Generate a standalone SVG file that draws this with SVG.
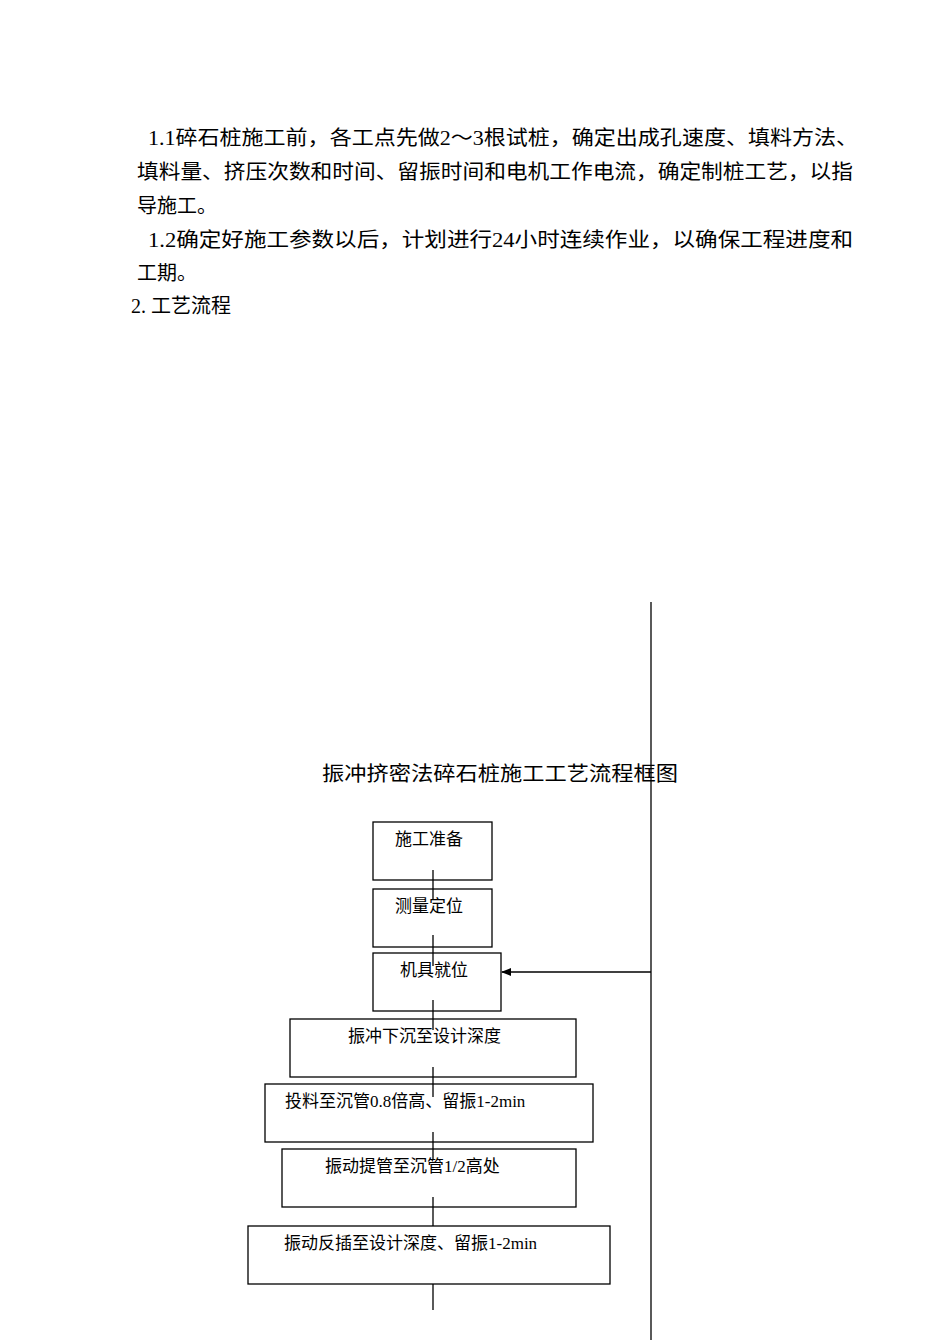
<svg xmlns="http://www.w3.org/2000/svg" width="950" height="1344" viewBox="0 0 950 1344">
<style>
text{font-family:"Liberation Serif","Noto Sans CJK SC",serif;fill:#000}
.p{font-size:20px}
.n{font-size:17px}
rect{fill:#fff;stroke:#000;stroke-width:1.3}
line{stroke:#000;stroke-width:1.3}
</style>
<defs><marker id="ah" markerWidth="10" markerHeight="8" refX="9" refY="4" orient="auto" markerUnits="userSpaceOnUse"><path d="M0,0L10,4L0,8z" fill="#000"/></marker></defs>
<text class="p" x="148" y="145" textLength="710" lengthAdjust="spacingAndGlyphs">1.1碎石桩施工前，各工点先做2～3根试桩，确定出成孔速度、填料方法、</text>
<text class="p" x="137" y="179" textLength="716" lengthAdjust="spacingAndGlyphs">填料量、挤压次数和时间、留振时间和电机工作电流，确定制桩工艺，以指</text>
<text class="p" x="137" y="213">导施工。</text>
<text class="p" x="148" y="247" textLength="705" lengthAdjust="spacingAndGlyphs">1.2确定好施工参数以后，计划进行24小时连续作业，以确保工程进度和</text>
<text class="p" x="137" y="280">工期。</text>
<text class="p" x="131" y="313">2. 工艺流程</text>
<text class="p" x="322" y="781" textLength="356" lengthAdjust="spacingAndGlyphs">振冲挤密法碎石桩施工工艺流程框图</text>
<g id="n1"><rect x="373" y="822" width="119" height="58"/><text class="n" x="395" y="845">施工准备</text></g>
<g id="n2"><rect x="373" y="889" width="119" height="58"/><text class="n" x="395" y="912">测量定位</text></g>
<g id="n3"><rect x="373" y="953" width="128" height="58"/><text class="n" x="400" y="976">机具就位</text></g>
<g id="n4"><rect x="290" y="1019" width="286" height="58"/><text class="n" x="348" y="1042">振冲下沉至设计深度</text></g>
<g id="n5"><rect x="265" y="1084" width="328" height="58"/><text class="n" x="285" y="1107">投料至沉管0.8倍高、留振1-2min</text></g>
<g id="n6"><rect x="282" y="1149" width="294" height="58"/><text class="n" x="325" y="1172">振动提管至沉管1/2高处</text></g>
<g id="n7"><rect x="248" y="1226" width="362" height="58"/><text class="n" x="284" y="1249">振动反插至设计深度、留振1-2min</text></g>
<g id="connectors">
<line x1="433" y1="870" x2="433" y2="899"/>
<line x1="433" y1="935" x2="433" y2="966"/>
<line x1="433" y1="1000" x2="433" y2="1030"/>
<line x1="433" y1="1067" x2="433" y2="1097"/>
<line x1="433" y1="1132" x2="433" y2="1160"/>
<line x1="433" y1="1197" x2="433" y2="1226"/>
<line x1="433" y1="1284" x2="433" y2="1310"/>
<line x1="651" y1="602" x2="651" y2="1340"/>
<line x1="651" y1="972" x2="502" y2="972" marker-end="url(#ah)"/>
</g>
</svg>
